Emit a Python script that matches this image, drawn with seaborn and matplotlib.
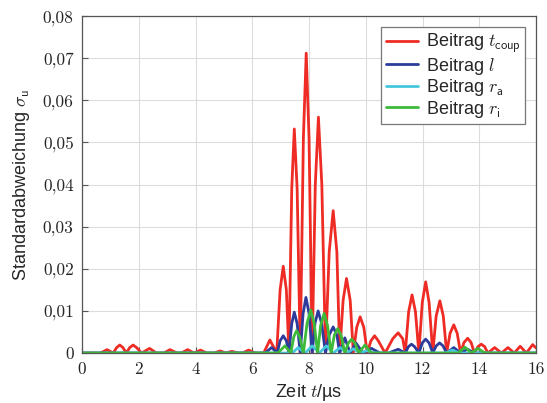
import numpy as np
import pandas as pd
import matplotlib
matplotlib.use("Agg")
import matplotlib.pyplot as plt
from matplotlib.ticker import FuncFormatter, MultipleLocator
import seaborn as sns

# Beitrag t_coup (rot)
red_t = [0.0, 0.65, 0.88, 1.10, 1.22, 1.33, 1.44, 1.56, 1.68, 1.80, 1.92, 2.10, 2.38, 2.62,
         2.88, 3.10, 3.35, 3.50, 3.72, 3.95, 4.17, 4.40, 4.65, 4.87, 5.07, 5.28, 5.50, 5.65,
         5.87, 6.10, 6.40, 6.62, 6.86, 6.98, 7.09, 7.20, 7.29, 7.39, 7.48, 7.58, 7.69, 7.80,
         7.90, 8.00, 8.11, 8.22, 8.33, 8.45, 8.58, 8.71, 8.85, 8.98, 9.08, 9.20, 9.32, 9.45,
         9.56, 9.68, 9.80, 9.93, 10.05, 10.18, 10.31, 10.44, 10.68, 10.95, 11.14, 11.30, 11.39,
         11.51, 11.63, 11.75, 11.87, 11.99, 12.11, 12.23, 12.36, 12.48, 12.61, 12.73, 12.85,
         12.97, 13.10, 13.22, 13.34, 13.46, 13.59, 13.71, 13.83, 13.95, 14.07, 14.19, 14.30,
         14.54, 14.78, 15.01, 15.23, 15.44, 15.66, 15.88, 16.0]
red_v = [0, 0, 0.0008, 0, 0.0013, 0.0019, 0.0013, 0, 0.0013, 0.0019, 0.0013, 0, 0.0011, 0,
         0, 0.0008, 0, 0, 0.0008, 0, 0.0007, 0, 0, 0.0005, 0, 0.0004, 0, 0,
         0.0007, 0, 0, 0.0031, 0, 0.0150, 0.0206, 0.0150, 0, 0.0390, 0.0532, 0.0390, 0, 0.0510,
         0.0712, 0.0510, 0, 0.0400, 0.0560, 0.0400, 0, 0.0240, 0.0338, 0.0240, 0, 0.0125, 0.0177, 0.0125,
         0, 0.0061, 0.0086, 0.0061, 0, 0.0029, 0.0041, 0.0029, 0, 0.0034, 0.0048, 0.0034, 0,
         0.0098, 0.0138, 0.0098, 0, 0.0120, 0.0169, 0.0120, 0, 0.0088, 0.0124, 0.0088, 0,
         0.0047, 0.0067, 0.0047, 0, 0.0025, 0.0035, 0.0025, 0, 0.0015, 0.0021, 0.0015, 0,
         0.0013, 0, 0.0013, 0, 0.0016, 0, 0.0020, 0.0012]

# Beitrag l (blau)
blue_t = [0.0, 6.45, 6.68, 6.88, 6.98, 7.09, 7.20, 7.29, 7.39, 7.48, 7.58, 7.69, 7.79, 7.89,
          8.00, 8.11, 8.21, 8.32, 8.44, 8.58, 8.71, 8.85, 8.98, 9.08, 9.26, 9.45, 9.65, 9.90,
          10.20, 10.50, 10.80, 11.14, 11.39, 11.50, 11.61, 11.72, 11.87, 11.99, 12.11, 12.23,
          12.36, 12.48, 12.60, 12.72, 12.85, 13.10, 13.34, 13.58, 13.83, 16.0]
blue_v = [0, 0, 0.0013, 0, 0.0029, 0.0041, 0.0029, 0, 0.0070, 0.0097, 0.0070, 0, 0.0094, 0.0132,
          0.0094, 0, 0.0071, 0.0100, 0.0071, 0, 0.0043, 0.0062, 0.0043, 0, 0.0036, 0, 0.0024, 0,
          0.0011, 0, 0, 0.0009, 0, 0.0015, 0.0021, 0.0015, 0, 0.0024, 0.0033, 0.0024,
          0, 0.0017, 0.0024, 0.0017, 0, 0.0013, 0, 0.0009, 0, 0]

# Beitrag r_a (cyan)
cyan_t = [0.0, 7.40, 7.62, 7.86, 8.11, 8.36, 8.61, 8.85, 9.10, 9.33, 9.56, 9.80, 10.05, 10.30,
          12.80, 13.05, 13.30, 16.0]
cyan_v = [0, 0, 0.0013, 0, 0.0017, 0, 0.0017, 0, 0.0013, 0, 0.0010, 0, 0.0006, 0,
          0, 0.0007, 0, 0]

# Beitrag r_i (gruen)
green_t = [0.0, 6.90, 7.15, 7.36, 7.46, 7.56, 7.67, 7.80, 7.93, 8.06, 8.18, 8.30, 8.41, 8.53,
           8.65, 8.78, 8.89, 9.01, 9.13, 9.26, 9.38, 9.50, 9.62, 9.75, 9.97, 10.20, 13.25,
           13.49, 13.72, 13.95, 14.20, 16.0]
green_v = [0, 0, 0.0017, 0, 0.0038, 0.0053, 0.0038, 0, 0.0071, 0.0102, 0.0071, 0, 0.0066, 0.0094,
           0.0066, 0, 0.0042, 0.0058, 0.0042, 0, 0.0023, 0.0033, 0.0023, 0, 0.0019, 0, 0,
           0.0014, 0, 0.0011, 0, 0]

labels = [r"Beitrag $t_{\mathsf{coup}}$", r"Beitrag $l$",
          r"Beitrag $r_{\mathsf{a}}$", r"Beitrag $r_{\mathsf{i}}$"]
colors = ["#ee2b24", "#2c3b9c", "#45c8dc", "#3dba3a"]

sns.set_style("whitegrid")
plt.rcParams["font.family"] = ["Liberation Sans", "DejaVu Sans"]
plt.rcParams["mathtext.fontset"] = "cm"

fig = plt.figure(figsize=(5.47, 4.03), dpi=100)
ax = fig.add_axes([0.150, 0.124, 0.830, 0.836])

series = [(red_t, red_v), (blue_t, blue_v), (cyan_t, cyan_v), (green_t, green_v)]
for (t, v), lab, col in zip(series, labels, colors):
    df = pd.DataFrame({"t": t, "v": v})
    sns.lineplot(data=df, x="t", y="v", ax=ax, color=col, lw=2.0, label=lab,
                 sort=False, estimator=None)

ax.set_xlim(0, 16)
ax.set_ylim(0, 0.08)
ax.xaxis.set_major_locator(MultipleLocator(2))
ax.yaxis.set_major_locator(MultipleLocator(0.01))
ax.yaxis.set_major_formatter(FuncFormatter(
    lambda v, p: "0" if abs(v) < 1e-9 else f"{v:.2f}".replace(".", ",")))
ax.xaxis.set_major_formatter(FuncFormatter(lambda v, p: f"{v:.0f}"))

ax.grid(True, color="#dcdcdc", lw=0.8)
for s in ax.spines.values():
    s.set_color("#555555")
    s.set_linewidth(0.9)
ax.tick_params(direction="in", length=4, color="#555555", labelsize=12.5,
               left=True, bottom=True, pad=6)
for lbl in ax.get_xticklabels() + ax.get_yticklabels():
    lbl.set_family("cmr10")

ax.set_xlabel(r"Zeit $t$/µs", fontsize=13, labelpad=4)
ax.set_ylabel(r"Standardabweichung $\sigma_{\mathsf{u}}$", fontsize=13, labelpad=8)

leg = ax.legend(loc="upper right", fontsize=13, frameon=True, fancybox=False,
                framealpha=1, edgecolor="#777777", handlelength=1.8,
                handletextpad=0.4, borderpad=0.25, labelspacing=0.02,
                borderaxespad=0.6)
leg.get_frame().set_linewidth(0.9)

fig.savefig("out.png", dpi=100)
